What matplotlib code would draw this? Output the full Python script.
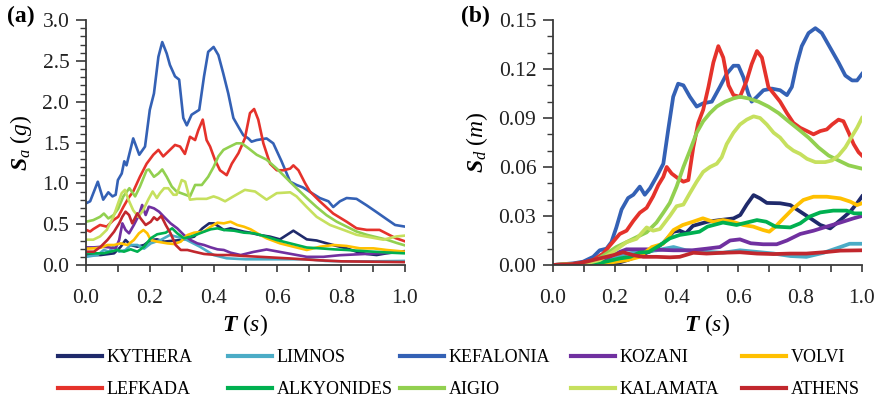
import matplotlib
matplotlib.use("Agg")
import matplotlib.pyplot as plt
from matplotlib.lines import Line2D
from matplotlib.ticker import MultipleLocator

plt.rcParams['font.family'] = ['Liberation Serif', 'DejaVu Serif']
plt.rcParams['mathtext.fontset'] = 'custom'
plt.rcParams['mathtext.rm'] = 'Liberation Serif'
plt.rcParams['mathtext.it'] = 'Liberation Serif:italic'
plt.rcParams['mathtext.bf'] = 'Liberation Serif:italic:bold'

names = ["KYTHERA", "LIMNOS", "KEFALONIA", "KOZANI", "VOLVI",
         "LEFKADA", "ALKYONIDES", "AIGIO", "KALAMATA", "ATHENS"]
colors = ["#1F2A6B", "#4BACC6", "#3461B5", "#7030A0", "#FFC000",
          "#E5322B", "#00B050", "#92D050", "#C6E05E", "#C1272D"]

# ---------------- panel (a): Sa (g) ----------------
KYT_a_T = [0, .046, .088, .109, .124, .14, .161, .182, .203, .223, .244, .265, .297, .318, .339, .365, .386, .401, .417, .432,
           .453, .474, .495, .514, .545, .577, .608, .629, .65, .671, .692, .723, .755, .786, .817, .848, .88, .911, .942, .984, 1.0]
KYT_a = [.122, .122, .143, .224, .306, .245, .224, .245, .306, .314, .286, .294, .306, .327, .347, .449, .51, .51, .469, .429,
         .449, .429, .408, .396, .367, .347, .314, .367, .42, .367, .314, .3, .265, .233, .204, .163, .135, .122, .143, .163, .17]

LIM_a_T = [0, .036, .056, .072, .088, .104, .124, .14, .161, .182, .203, .234, .263, .29, .316, .357, .4, .441, .5, .6, .7, .75, .8, .9, 1.0]
LIM_a = [.10, .122, .184, .163, .233, .163, .184, .245, .245, .2, .265, .306, .367, .34, .306, .224, .122, .082, .07, .07, .07, .05, .045, .045, .05]

KEF_a_T = [0, .013, .037, .054, .07, .083, .093, .10, .112, .12, .127, .148, .167, .185, .2, .213, .227, .239, .253, .263,
           .279, .292, .305, .316, .331, .355, .37, .383, .4, .415, .43, .446, .462, .478, .493, .509, .519, .535, .566, .587,
           .613, .64, .66, .68, .70, .733, .76, .775, .796, .817, .848, .88, .91, .943, .969, 1.0]
KEF_a = [.755, .78, 1.02, .80, .89, .84, .86, 1.04, 1.12, 1.27, 1.22, 1.55, 1.35, 1.45, 1.9, 2.1, 2.55, 2.73, 2.59, 2.45,
         2.31, 2.27, 1.8, 1.71, 1.84, 1.9, 2.31, 2.61, 2.67, 2.57, 2.35, 2.1, 1.8, 1.69, 1.59, 1.55, 1.51, 1.53, 1.55, 1.49,
         1.27, 1.02, .98, .95, .9, .82, .78, .71, .78, .82, .81, .73, .65, .56, .49, .47]

KOZ_a_T = [0, .025, .051, .072, .093, .104, .114, .124, .135, .15, .166, .176, .187, .197, .213, .229, .244, .265, .286, .307,
           .328, .349, .37, .391, .412, .432, .453, .485, .525, .566, .608, .692, .744, .796, .901, 1.0]
KOZ_a = [.216, .216, .224, .216, .204, .306, .51, .429, .388, .49, .612, .735, .612, .714, .694, .653, .592, .51, .449, .367,
         .306, .265, .245, .216, .192, .184, .151, .122, .16, .19, .16, .10, .10, .12, .14, .16]

VOL_a_T = [0, .025, .046, .067, .088, .109, .13, .15, .166, .18, .192, .203, .223, .255, .276, .297, .318, .339, .37, .391,
           .412, .432, .453, .474, .495, .516, .545, .566, .608, .65, .692, .734, .776, .817, .859, .901, .942, 1.0]
VOL_a = [.2, .204, .212, .245, .245, .265, .245, .306, .388, .429, .388, .306, .286, .265, .257, .286, .367, .396, .408, .469,
         .518, .51, .53, .49, .469, .437, .37, .327, .265, .224, .184, .224, .245, .233, .204, .204, .184, .163]

LEF_a_T = [0, .013, .023, .044, .065, .086, .101, .117, .133, .148, .169, .19, .211, .227, .242, .258, .279, .295, .31, .326,
           .342, .352, .366, .378, .389, .404, .42, .441, .457, .478, .498, .514, .527, .54, .556, .577, .598, .619, .64, .65,
           .666, .687, .702, .733, .775, .817, .848, .88, .92, .94, .97, 1.0]
LEF_a = [.43, .41, .44, .49, .47, .55, .59, .71, .82, .9, 1.08, 1.24, 1.35, 1.41, 1.33, 1.39, 1.47, 1.45, 1.36, 1.57,
         1.53, 1.65, 1.78, 1.53, 1.45, 1.29, 1.16, 1.10, 1.24, 1.37, 1.55, 1.86, 1.91, 1.78, 1.49, 1.24, 1.16, 1.16, 1.18, 1.22,
         1.16, 1.0, .9, .78, .63, .53, .45, .43, .43, .39, .33, .29]

ALK_a_T = [0, .025, .056, .077, .098, .119, .14, .161, .182, .203, .223, .25, .27, .286, .307, .328, .349, .37, .391, .412,
           .432, .464, .495, .527, .566, .598, .64, .692, .734, .776, .817, .859, .901, .953, 1.0]
ALK_a = [.143, .143, .143, .163, .184, .163, .192, .163, .224, .327, .376, .396, .449, .388, .327, .347, .376, .408, .437, .449,
         .429, .42, .396, .388, .347, .306, .265, .214, .204, .192, .184, .173, .163, .151, .143]

AIG_a_T = [0, .023, .044, .056, .07, .086, .101, .117, .136, .154, .169, .19, .197, .213, .227, .239, .253, .269, .284, .305,
           .326, .342, .363, .383, .4, .415, .431, .451, .472, .488, .509, .535, .566, .598, .629, .66, .692, .723, .754, .786,
           .817, .848, .88, .911, .943, .974, 1.0]
AIG_a = [.53, .55, .59, .63, .57, .61, .69, .84, .94, .84, .96, 1.16, 1.17, 1.08, 1.12, 1.17, 1.08, .96, .9, .87,
         .84, .98, .98, 1.08, 1.2, 1.33, 1.41, 1.45, 1.49, 1.49, 1.43, 1.35, 1.29, 1.18, 1.06, .94, .82, .71, .61, .53,
         .47, .41, .37, .34, .31, .27, .24]

KAL_a_T = [0, .023, .044, .065, .086, .101, .112, .122, .133, .148, .164, .179, .195, .209, .222, .232, .245, .258, .274, .284,
           .3, .311, .326, .347, .378, .4, .415, .436, .462, .498, .53, .566, .598, .64, .66, .692, .723, .765, .807, .848,
           .89, .932, .974, 1.0]
KAL_a = [.31, .31, .35, .43, .59, .76, .88, .92, .8, .67, .59, .67, .8, .9, .82, .88, .94, .94, .86, .86,
         1.04, 1.02, .8, .81, .81, .84, .82, .78, .84, .92, .9, .8, .88, .89, .84, .71, .59, .49, .43, .37,
         .34, .31, .35, .36]

ATH_a_T = [0, .025, .046, .067, .088, .104, .114, .124, .135, .145, .161, .171, .187, .203, .213, .223, .236, .25, .265, .281,
           .297, .318, .339, .37, .412, .453, .495, .537, .64, .72, .8, 1.0]
ATH_a = [.163, .163, .224, .306, .408, .51, .592, .653, .612, .51, .633, .571, .49, .53, .584, .551, .6, .49, .388, .245,
         .184, .184, .163, .135, .122, .122, .11, .102, .08, .06, .045, .035]

# ---------------- panel (b): Sd (m) ----------------
KYT_b_T = [0, .15, .206, .24, .282, .324, .356, .39, .41, .43, .453, .5, .54, .584, .606, .627, .649, .67, .692, .735,
           .768, .8, .833, .865, .897, .93, .962, .984, 1.0]
KYT_b = [0, 0, .001, .003, .006, .009, .0133, .0204, .021, .0194, .024, .0265, .0275, .0285, .0306, .037, .0428, .0408, .038, .0378,
         .0367, .0327, .0286, .0245, .0224, .0275, .0327, .0378, .042]

LIM_b_T = [0, .1, .173, .24, .28, .335, .39, .43, .5, .55, .605, .66, .714, .768, .82, .876, .93, .96, 1.0]
LIM_b = [0, .0005, .002, .007, .008, .009, .011, .009, .008, .0075, .009, .008, .007, .0055, .005, .0075, .011, .013, .013]

KEF_b_T = [0, .065, .097, .13, .151, .173, .189, .205, .222, .243, .26, .281, .297, .314, .335, .357, .373, .389, .405, .422,
           .443, .465, .486, .514, .54, .562, .584, .6, .616, .632, .643, .66, .681, .708, .735, .757, .773, .789, .805, .827,
           .849, .87, .897, .924, .946, .968, .984, 1.0]
KEF_b = [0, .001, .002, .005, .009, .01, .014, .023, .034, .041, .043, .048, .043, .047, .054, .062, .083, .103, .111, .11,
         .103, .097, .099, .1, .109, .117, .122, .122, .115, .105, .1, .103, .107, .108, .107, .104, .109, .123, .134, .142,
         .145, .142, .133, .124, .116, .113, .113, .117]

KOZ_b_T = [0, .065, .14, .184, .216, .238, .3, .39, .45, .497, .54, .573, .605, .64, .68, .724, .757, .8, .843, .886, .93, .973, 1.0]
KOZ_b = [0, 0, .001, .005, .008, .0096, .0096, .009, .009, .01, .011, .015, .0157, .0133, .0127, .0127, .015, .019, .021, .0235,
         .026, .0286, .030]

VOL_b_T = [0, .15, .24, .28, .32, .356, .39, .42, .453, .485, .518, .55, .58, .616, .648, .68, .70, .72, .746, .778,
           .81, .843, .886, .93, .962, .984, 1.0]
VOL_b = [0, .0005, .003, .005, .011, .013, .0214, .0245, .0265, .0286, .0265, .0275, .0265, .0245, .0235, .0214, .0204, .0235, .0286, .0347,
         .0398, .0418, .0418, .0408, .0388, .0367, .0378]

LEF_b_T = [0, .086, .13, .162, .189, .216, .238, .26, .281, .303, .324, .341, .357, .368, .384, .405, .422, .438, .454, .47,
           .486, .503, .519, .535, .551, .568, .584, .605, .627, .643, .66, .676, .697, .714, .735, .757, .778, .8, .822, .843,
           .865, .886, .903, .924, .94, .957, .973, .989, 1.0]
LEF_b = [0, .001, .003, .007, .013, .019, .021, .027, .032, .035, .042, .049, .054, .06, .056, .053, .051, .052, .072, .087,
         .095, .109, .124, .134, .127, .11, .104, .103, .113, .123, .131, .127, .109, .105, .1, .093, .087, .084, .082, .08,
         .082, .083, .086, .089, .088, .081, .074, .069, .067]

ALK_b_T = [0, .12, .17, .216, .25, .28, .31, .345, .378, .41, .443, .474, .5, .54, .55, .594, .627, .66, .69, .72,
           .768, .8, .83, .865, .907, .95, .975, 1.0]
ALK_b = [0, 0, .002, .004, .005, .0076, .008, .012, .0163, .0184, .0194, .0204, .0235, .0255, .026, .0245, .026, .0275, .0265, .0235,
         .023, .0255, .0296, .0322, .0333, .0333, .0316, .0316]

AIG_b_T = [0, .097, .14, .173, .205, .238, .27, .303, .335, .357, .378, .4, .422, .443, .465, .486, .508, .53, .557, .584,
           .605, .632, .665, .697, .73, .762, .795, .827, .859, .892, .924, .957, 1.0]
AIG_b = [0, .001, .003, .007, .011, .014, .017, .02, .026, .032, .038, .048, .06, .07, .081, .088, .093, .097, .1, .102,
         .103, .102, .1, .097, .093, .088, .083, .078, .072, .067, .064, .061, .059]

KAL_b_T = [0, .108, .151, .195, .238, .27, .303, .324, .346, .378, .4, .422, .443, .465, .486, .508, .53, .546, .562, .584,
           .605, .627, .649, .67, .692, .714, .735, .757, .778, .8, .822, .849, .881, .903, .924, .946, .968, .984, 1.0]
KAL_b = [0, .001, .003, .008, .014, .016, .023, .021, .022, .03, .036, .037, .044, .051, .057, .06, .062, .066, .074, .081,
         .086, .089, .091, .09, .086, .081, .078, .073, .07, .068, .065, .063, .063, .064, .067, .072, .079, .084, .09]

ATH_b_T = [0, .065, .108, .15, .195, .227, .26, .292, .335, .378, .41, .454, .497, .55, .605, .66, .714, .768, .82, .876, .93, 1.0]
ATH_b = [0, .0006, .002, .004, .006, .0078, .006, .005, .005, .0047, .005, .0075, .007, .0075, .0078, .007, .0067, .007, .007, .0078,
         .0088, .009]

series_a = [(KYT_a_T, KYT_a), (LIM_a_T, LIM_a), (KEF_a_T, KEF_a), (KOZ_a_T, KOZ_a), (VOL_a_T, VOL_a),
            (LEF_a_T, LEF_a), (ALK_a_T, ALK_a), (AIG_a_T, AIG_a), (KAL_a_T, KAL_a), (ATH_a_T, ATH_a)]
series_b = [(KYT_b_T, KYT_b), (LIM_b_T, LIM_b), (KEF_b_T, KEF_b), (KOZ_b_T, KOZ_b), (VOL_b_T, VOL_b),
            (LEF_b_T, LEF_b), (ALK_b_T, ALK_b), (AIG_b_T, AIG_b), (KAL_b_T, KAL_b), (ATH_b_T, ATH_b)]

a_ticks = ["0.0", "0.5", "1.0", "1.5", "2.0", "2.5", "3.0"]
b_ticks = ["0.00", "0.03", "0.06", "0.09", "0.12", "0.15"]
x_ticks = ["0.0", "0.2", "0.4", "0.6", "0.8", "1.0"]

fig = plt.figure(figsize=(8.76, 3.99), dpi=100)
axA = fig.add_axes([86/876, 1-265/399, 319/876, 245/399])
axB = fig.add_axes([553/876, 1-265/399, 309/876, 245/399])

spine_c = "#3a3a3a"
tick_fs = 15.5

def style(ax, ymax, ymajor, yminor, ticklabels):
    ax.set_xlim(0, 1.0)
    ax.set_ylim(0, ymax)
    for s in ["top", "right"]:
        ax.spines[s].set_visible(False)
    for s in ["left", "bottom"]:
        ax.spines[s].set_color(spine_c)
        ax.spines[s].set_linewidth(1.3)
    ax.xaxis.set_minor_locator(MultipleLocator(0.1))
    ax.yaxis.set_minor_locator(MultipleLocator(yminor))
    ax.set_xticks([float(t) for t in x_ticks])
    ax.set_xticklabels(x_ticks)
    ax.set_yticks([float(t) for t in ticklabels])
    ax.set_yticklabels(ticklabels)
    ax.tick_params(axis="both", which="major", direction="out", color=spine_c, width=1.2,
                   labelsize=tick_fs, labelcolor="#222222")
    ax.tick_params(axis="y", which="major", length=7, pad=5)
    ax.tick_params(axis="y", which="minor", length=4, width=1.0, color=spine_c, direction="out")
    ax.tick_params(axis="x", which="major", length=5, pad=12)
    ax.tick_params(axis="x", which="minor", length=5, width=1.2, color=spine_c, direction="out")

for (t, v), c in zip(series_a, colors):
    axA.plot(t, v, color=c, lw=1.9, solid_joinstyle="round")
for (t, v), c in zip(series_b, colors):
    axB.plot(t, v, color=c, lw=2.7, solid_joinstyle="round")

style(axA, 3.0, 0.5, 0.1, a_ticks)
style(axB, 0.15, 0.03, 0.01, b_ticks)

axA.set_ylabel(r"$\mathbf{S}_{a}\ (g)$", fontsize=17, labelpad=6)
axB.set_ylabel(r"$\mathbf{S}_{d}\ (m)$", fontsize=17, labelpad=6)
axA.set_xlabel(r"$\mathbf{T}\ (s)$", fontsize=17, labelpad=3)
axB.set_xlabel(r"$\mathbf{T}\ (s)$", fontsize=17, labelpad=3)

fig.text(7/876, 1-16/399, "(a)", fontsize=17, fontweight="bold", va="center", ha="left")
fig.text(461/876, 1-16/399, "(b)", fontsize=17, fontweight="bold", va="center", ha="left")

# legend: 5 fixed columns, 2 rows
col_x = [58, 228, 400, 571, 742]
for i in range(5):
    hs = [Line2D([], [], color=colors[i], lw=3), Line2D([], [], color=colors[i + 5], lw=3)]
    fig.legend(hs, [names[i], names[i + 5]], loc="upper left",
               bbox_to_anchor=(col_x[i]/876, 1-349/399), frameon=False,
               fontsize=13, handlelength=2.45, handletextpad=0.25, labelspacing=0.85,
               borderpad=0, borderaxespad=0)

fig.savefig("out.png", dpi=100)
